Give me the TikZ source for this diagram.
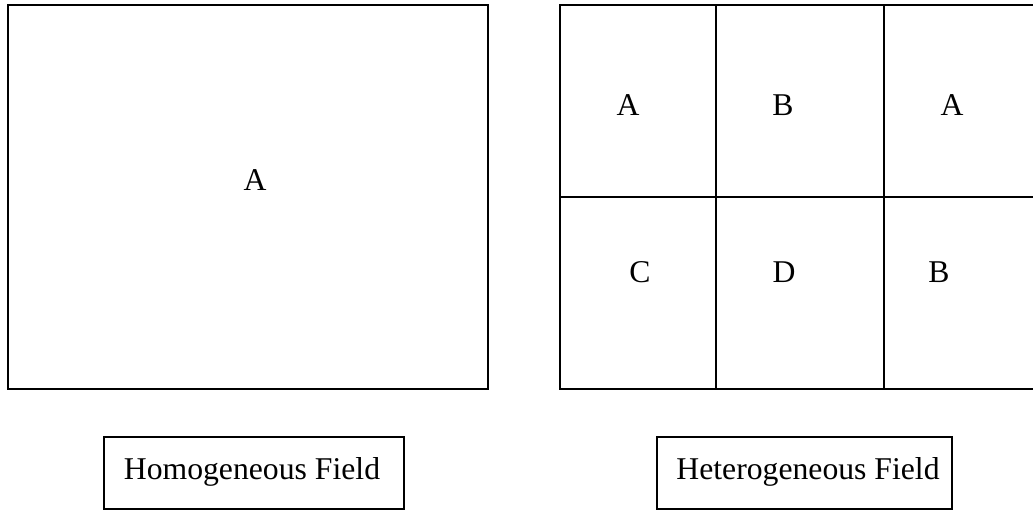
\documentclass[tikz,border=0pt]{standalone}
\usepackage{fontspec}
\setmainfont{Liberation Serif}
\begin{document}
\begin{tikzpicture}[x=1pt,y=-1pt,
  frame/.style={draw=black,line width=2pt},
  lbl/.style={anchor=base,inner sep=0pt,font=\fontsize{31.7}{36}\selectfont}]
\useasboundingbox (0,0) rectangle (1033,510);
\clip (0,0) rectangle (1033,510);
% homogeneous field
\draw[frame] (7.5,5) rectangle (488,389);
\node[lbl] (hA) at (255,191) {A};
% heterogeneous field
\coordinate (g1) at (560,5);
\coordinate (g2) at (1045,389);
\draw[frame] (g1) rectangle (g2);
\draw[frame] (560,197) -- (1045,197);
\draw[frame] (716,5) -- (716,389);
\draw[frame] (884,5) -- (884,389);
\node[lbl] (c11) at (628,116) {A};
\node[lbl] (c12) at (783,116) {B};
\node[lbl] (c13) at (952,116) {A};
\node[lbl] (c21) at (640,283) {C};
\node[lbl] (c22) at (784,283) {D};
\node[lbl] (c23) at (939,283) {B};
% captions
\draw[frame] (104,437) rectangle (404,509);
\node[lbl] (homo) at (252,479) {Homogeneous Field};
\draw[frame] (657,437) rectangle (952,509);
\node[lbl] (hetero) at (808,479) {Heterogeneous Field};
\end{tikzpicture}
\end{document}
